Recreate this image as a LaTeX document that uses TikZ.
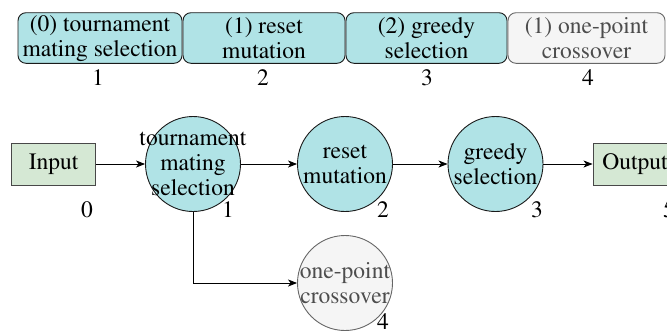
\documentclass[tikz,border=0pt]{standalone}
\usepackage[T1]{fontenc}
\usepackage{mathptmx}
\usetikzlibrary{arrows.meta}
\definecolor{cyanfill}{HTML}{B0E3E6}
\definecolor{greenfill}{HTML}{D5E8D4}
\definecolor{greyfill}{HTML}{F5F5F5}
\definecolor{greystroke}{HTML}{666666}
\definecolor{greytext}{HTML}{4D4D4D}
\definecolor{darkstroke}{HTML}{1A1A1A}
\tikzset{
  txt/.style={font=\fontsize{23.5}{25}\selectfont, align=center, inner sep=0pt},
  topbox/.style={draw=darkstroke, fill=cyanfill, rounded corners=8pt, line width=0.9pt},
  topgrey/.style={draw=greystroke, fill=greyfill, rounded corners=8pt, line width=0.9pt},
  opcirc/.style={circle, draw=darkstroke, fill=cyanfill, minimum size=95pt, inner sep=0pt, line width=0.9pt},
  greycirc/.style={circle, draw=greystroke, fill=greyfill, minimum size=95pt, inner sep=0pt, line width=0.9pt},
  iobox/.style={rectangle, draw=darkstroke!80, fill=greenfill, minimum width=84pt, minimum height=42pt, inner sep=0pt, line width=0.9pt},
  conn/.style={line width=0.9pt, -{Stealth[length=9pt,width=7pt,inset=2.5pt]}},
  idx/.style={txt}
}
\begin{document}
\begin{tikzpicture}[x=1pt,y=-1pt]
\useasboundingbox (0,0) rectangle (667,330);
% top bar
\draw[topbox] (18,12.7) rectangle (182,63.3);
\draw[topbox] (183,12.7) rectangle (345,63.3);
\draw[topbox] (346,12.7) rectangle (507,63.3);
\draw[topgrey] (508,12.7) rectangle (665,63.3);
\node[txt] (t1) at (100,38.5) {(0) tournament\\mating selection};
\node[txt] (t2) at (264,38.5) {(1) reset\\mutation};
\node[txt] (t3) at (426.5,38.5) {(2) greedy\\selection};
\node[txt, text=greytext] (t4) at (586.5,38.5) {(1) one-point\\crossover};
\node[idx] (n1) at (98,78) {1};
\node[idx] (n2) at (263,78) {2};
\node[idx] (n3) at (427,78) {3};
\node[idx] (n4) at (588,78) {4};
% main row
\node[iobox] (in) at (53.7,164) {};
\node[txt] at (in) {Input};
\node[opcirc] (c1) at (193,164) {};
\node[txt] at (c1) {tournament\\mating\\selection};
\node[opcirc] (c2) at (345,164) {};
\node[txt] at (c2) {reset\\mutation};
\node[opcirc] (c3) at (495.5,164) {};
\node[txt] at (c3) {greedy\\selection};
\node[iobox] (out) at (635,164) {};
\node[txt] at (out) {Output};
\node[greycirc] (c4) at (345,283) {};
\node[txt, text=greytext] at (c4) {one-point\\crossover};
% indices
\node[idx] (i0) at (87,210) {0};
\node[idx] (i1) at (228,210) {1};
\node[idx] (i2) at (383,210) {2};
\node[idx] (i3) at (537,210) {3};
\node[idx] (i5) at (669,210) {5};
\node[idx] (i4) at (383,322) {4};
% connectors
\draw[conn] (in) -- (c1);
\draw[conn] (c1) -- (c2);
\draw[conn] (c2) -- (c3);
\draw[conn] (c3) -- (out);
\draw[conn] (c1.south) |- (c4.west);
\end{tikzpicture}
\end{document}
